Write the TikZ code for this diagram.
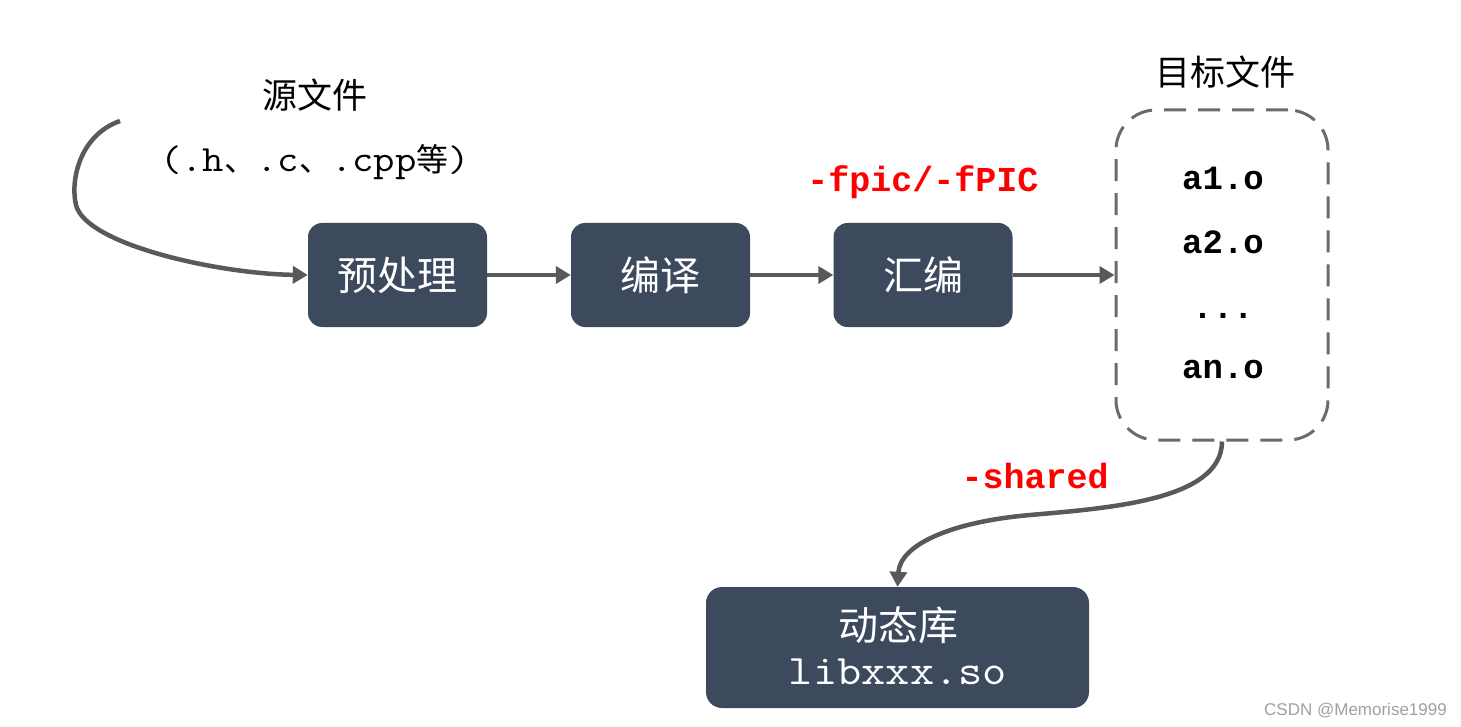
\documentclass[tikz,border=0pt]{standalone}
\usepackage{fontspec}
\setmainfont{Liberation Sans}
\newfontfamily\cjk{Noto Sans CJK SC}
\newfontfamily\mono{Liberation Mono}
\newfontfamily\lmono[FakeStretch=1.12]{Latin Modern Mono}
\usetikzlibrary{arrows.meta}
\definecolor{boxfill}{HTML}{3D4A5E}
\definecolor{arrowgray}{HTML}{595959}
\definecolor{dashgray}{HTML}{6B6B6B}
\definecolor{wmgray}{HTML}{A0A0A0}
\definecolor{flagred}{HTML}{FF0000}
\begin{document}
\begin{tikzpicture}[x=1pt,y=-1pt,
  stagebox/.style={fill=boxfill, rounded corners=14pt, minimum width=179pt, minimum height=104pt,
    inner sep=0pt, text=white, font=\cjk\fontsize{40}{46}\selectfont},
  flow/.style={draw=arrowgray, line width=4.5pt, -{Triangle[length=15pt,width=17pt]}},
  cjklabel/.style={inner sep=0pt, font=\cjk\fontsize{35}{40}\selectfont},
  flag/.style={inner sep=0pt, text=flagred, font=\mono\bfseries\fontsize{35}{40}\selectfont},
  objfile/.style={inner sep=0pt, font=\mono\bfseries\fontsize{34}{40}\selectfont},
  objbox/.style={draw=dashgray, line width=3pt, dash pattern=on 22pt off 12pt, rounded corners=40pt,
    minimum width=212pt, minimum height=330pt, inner sep=0pt}
]
\useasboundingbox (0,0) rectangle (1461,727);
\fill[white] (0,0) rectangle (1461,727);

% source
\node[cjklabel] (srclabel) at (315,95) {源文件};
\node[inner sep=0pt, font=\lmono\fontsize{37}{40}\selectfont] (srcext) at (315,162)
  {(.h{\cjk\fontsize{32}{40}\selectfont 、}.c{\cjk\fontsize{32}{40}\selectfont 、}.cpp{\cjk\fontsize{32}{40}\selectfont 等})};
\coordinate (src) at (120,121);

% stages
\node[stagebox] (pre) at (397.5,275) {预处理};
\node[stagebox] (comp) at (660.5,275) {编译};
\node[stagebox] (asm) at (923,275) {汇编};

\node[flag] (fpic) at (923,182) {-fpic/-fPIC};

% object files
\node[objbox] (obj) at (1222,275) {};
\node[cjklabel] (objlabel) at (1225,72) {目标文件};
\node[objfile] (a1) at (1223,178) {a1.o};
\node[objfile] (a2) at (1223,242) {a2.o};
\node[objfile] (dots) at (1223,316) {...};
\node[objfile] (an) at (1223,370) {an.o};

% library
\node[fill=boxfill, rounded corners=16pt, minimum width=383pt, minimum height=121pt, inner sep=0pt] (lib) at (897.5,647.5) {};
\node[inner sep=0pt, text=white, font=\cjk\fontsize{40}{44}\selectfont] (libname) at (898,625) {动态库};
\node[inner sep=0pt, text=white, font=\lmono\fontsize{42}{44}\selectfont] (libfile) at (898,672) {libxxx.so};

\node[flag] (shared) at (1035,476) {-shared};

% connectors
\draw[flow] (src) .. controls (80,135) and (70,180) .. (76,205)
  .. controls (86,245) and (220,274) .. (pre.west);
\draw[flow] (pre.east) -- (comp.west);
\draw[flow] (comp.east) -- (asm.west);
\draw[flow] (asm.east) -- (obj.west);
\draw[flow] (obj.south) .. controls (1222,500) and (1110,508) .. (1030,515)
  .. controls (950,522) and (900,545) .. (lib.north);

% watermark
\node[inner sep=0pt, text=wmgray, font=\fontsize{17}{20}\selectfont, anchor=east] (wm) at (1447,711) {CSDN @Memorise1999};
\end{tikzpicture}
\end{document}
